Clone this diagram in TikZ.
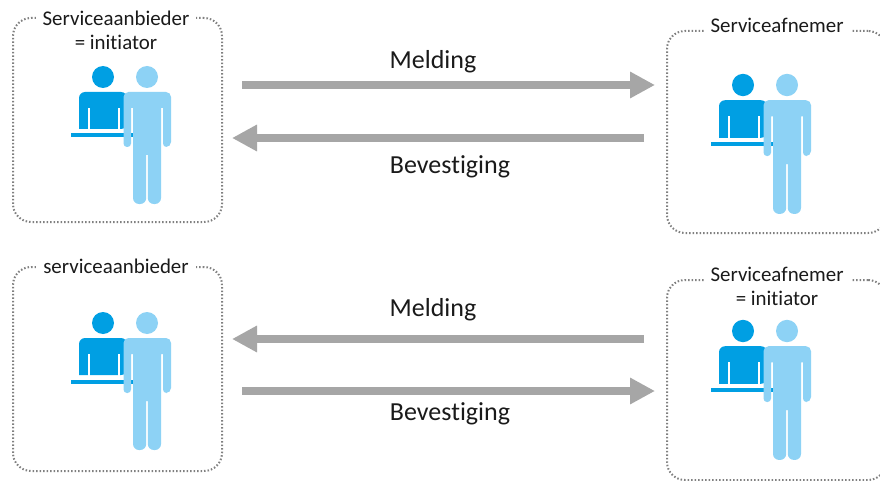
\documentclass[tikz,border=0pt]{standalone}
\usepackage{fontspec}
\setmainfont[Ligatures=NoCommon]{Carlito}
\usetikzlibrary{positioning}
\usetikzlibrary{arrows.meta}
\definecolor{persondark}{HTML}{009FE3}
\definecolor{personlight}{HTML}{8DD2F5}
\definecolor{arrowgray}{HTML}{A6A6A6}
\definecolor{dotgray}{HTML}{808080}
\definecolor{textdark}{HTML}{1A1A1A}
\tikzset{
    partybox/.style={draw=dotgray, line width=2pt, dash pattern=on 1.5pt off 2pt, rounded corners=18pt, anchor=north west, inner sep=0pt},
    partylabel/.style={fill=white, align=center, text=textdark, font=\fontsize{20.9}{24}\selectfont, inner xsep=7pt, inner ysep=0pt, anchor=north},
    msglabel/.style={text=textdark, font=\fontsize{26}{28}\selectfont, inner sep=0pt},
    msgarrow/.style={draw=arrowgray, line width=8.7pt, -{Triangle[length=25pt,width=25pt,fill=arrowgray]}},
    person/.pic={
        % person behind the counter
        \fill[persondark] (0,0) circle (11pt);
        \fill[persondark, rounded corners=6pt] (-24,52) -- (-24,15) -- (24,15) -- (24,52) [sharp corners] -- cycle;
        \fill[white] (-15,31) rectangle (-13,53);
        \fill[white] (15,31) rectangle (17,53);
        \fill[persondark] (-32,56.5) rectangle (30,60.5);
        % person in front
        \fill[personlight] (44,0) circle (11pt);
        \fill[personlight, rounded corners=5pt] (20.5,70) -- (20.5,15) -- (68,15) -- (68,70)
            [rounded corners=3.5pt] -- (60,70) [sharp corners] -- (60,31) -- (58,31)
            [rounded corners=6pt] -- (58,127) -- (44.8,127) [sharp corners] -- (44.8,78) -- (43.2,78)
            [rounded corners=6pt] -- (43.2,127) -- (30,127) [sharp corners] -- (30,31) -- (28,31)
            [rounded corners=3.5pt] -- (28,70) -- cycle;
    }
}
\begin{document}
\begin{tikzpicture}[x=1pt, y=-1pt]
    \clip (0,0) rectangle (880,481);
    \fill[white] (0,0) rectangle (880,481);

    % dotted boxes
    \node[partybox, minimum width=209pt, minimum height=204pt] (aanbiederA) at (12,17) {};
    \node[partybox, minimum width=219pt, minimum height=202pt] (afnemerA) at (666,30) {};
    \node[partybox, minimum width=209pt, minimum height=204pt] (aanbiederB) at (12,266) {};
    \node[partybox, minimum width=219pt, minimum height=200pt] (afnemerB) at (666,279) {};

    % box labels
    \node[partylabel] (aanbiederAlabel) at (116,10.5) {Serviceaanbieder\\= initiator};
    \node[partylabel] (afnemerAlabel) at (777,18) {Serviceafnemer};
    \node[partylabel] (aanbiederBlabel) at (116,259) {serviceaanbieder};
    \node[partylabel] (afnemerBlabel) at (777,266.5) {Serviceafnemer\\= initiator};

    % persons
    \pic at (103,77) {person};
    \pic[yscale=1.015] at (743,85) {person};
    \pic at (103,323) {person};
    \pic[yscale=1.015] at (743,331) {person};

    % free ends of the arrows
    \coordinate (meldingAstart) at (242,85);
    \coordinate (meldingAend) at (655,85);
    \coordinate (bevestigingAstart) at (644,138);
    \coordinate (bevestigingAend) at (232,138);
    \coordinate (meldingBstart) at (644,339);
    \coordinate (meldingBend) at (232,339);
    \coordinate (bevestigingBstart) at (242,391);
    \coordinate (bevestigingBend) at (655,391);

    \draw[msgarrow] (meldingAstart) -- (meldingAend);
    \draw[msgarrow] (bevestigingAstart) -- (bevestigingAend);
    \draw[msgarrow] (meldingBstart) -- (meldingBend);
    \draw[msgarrow] (bevestigingBstart) -- (bevestigingBend);

    \node[msglabel] (meldingAlabel) at (433,62) {Melding};
    \node[msglabel] (bevestigingAlabel) at (450,167) {Bevestiging};
    \node[msglabel] (meldingBlabel) at (433,310) {Melding};
    \node[msglabel] (bevestigingBlabel) at (450,414) {Bevestiging};
\end{tikzpicture}
\end{document}
